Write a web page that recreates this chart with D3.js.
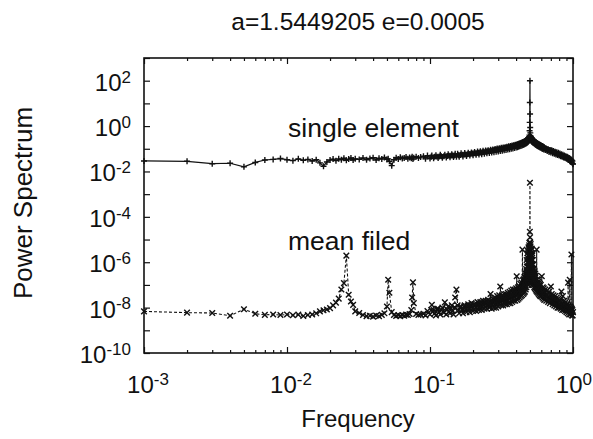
<!DOCTYPE html>
<html><head><meta charset="utf-8">
<script src="https://cdn.jsdelivr.net/npm/d3@7"></script>
<style>body{margin:0;background:#fff}svg{display:block}text{font-family:"Liberation Sans",Arial,Helvetica,sans-serif;fill:#111}</style>
</head><body><svg id="c" width="593" height="439"></svg>
<script>
const title = "a=1.5449205 e=0.0005";
const xLabel = "Frequency";
const yLabel = "Power Spectrum";
const seriesNames = ["single element", "mean filed"];
const xTickExps = [-3, -2, -1, 0];
const yTickExps = [2, 0, -2, -4, -6, -8, -10];

const freq = [
.001,.002,.003,.004,.005,.006,.007,.008,.009,.010,
.011,.012,.013,.014,.015,.016,.017,.018,.019,.020,
.021,.022,.023,.024,.025,.026,.027,.028,.029,.030,
.032,.034,.036,.038,.040,.042,.044,.046,.048,.050,
.051,.052,.054,.056,.058,.060,.062,.064,.066,.068,
.070,.072,.074,.075,.076,.077,.080,.083,.086,.090,
.093,.096,.100,.103,.106,.110,.114,.118,.122,.127,
.130,.134,.138,.142,.146,.150,.153,.156,.160,.165,
.170,.175,.180,.185,.190,.195,.200,.205,.210,.215,
.220,.225,.230,.235,.240,.245,.250,.255,.260,.265,
.270,.275,.280,.285,.290,.295,.300,.305,.310,.315,
.320,.325,.330,.335,.340,.345,.350,.355,.360,.365,
.370,.375,.380,.385,.390,.395,.400,.404,.408,.412,
.416,.420,.424,.428,.432,.436,.440,.443,.446,.449,
.452,.455,.458,.461,.464,.467,.470,.472,.474,.476,
.478,.480,.481,.482,.483,.484,.485,.486,.487,.488,
.489,.490,.491,.492,.493,.494,.495,.496,.497,.498,
.499,.500,.501,.502,.503,.504,.505,.506,.507,.508,
.509,.510,.511,.512,.513,.514,.515,.516,.517,.518,
.519,.520,.522,.524,.526,.528,.530,.533,.536,.539,
.542,.545,.548,.551,.554,.557,.560,.564,.568,.572,
.576,.580,.584,.588,.592,.596,.600,.605,.610,.615,
.620,.625,.630,.640,.650,.660,.670,.680,.690,.700,
.710,.720,.730,.740,.750,.760,.770,.780,.790,.800,
.810,.820,.830,.840,.850,.860,.870,.880,.890,.900,
.910,.920,.924,.930,.940,.949,.955,.960,.970,.975,
.980,.985,.990,.995,1.000];

const singleElement = [
2.9e-2,2.8e-2,2.2e-2,2.3e-2,1.6e-2,2.5e-2,3.2e-2,3.4e-2,3.7e-2,3.3e-2,
3.0e-2,3.6e-2,3.1e-2,3.4e-2,2.9e-2,3.3e-2,2.4e-2,1.7e-2,2.6e-2,3.2e-2,
3.5e-2,3.0e-2,3.6e-2,3.3e-2,3.8e-2,3.1e-2,3.5e-2,3.9e-2,3.2e-2,3.6e-2,
3.4e-2,3.9e-2,3.3e-2,3.7e-2,4.0e-2,3.2e-2,3.8e-2,3.5e-2,4.1e-2,3.4e-2,
3.6e-2,2.8e-2,1.8e-2,3.3e-2,4.0e-2,3.5e-2,4.2e-2,3.7e-2,3.9e-2,4.3e-2,
3.6e-2,4.1e-2,3.8e-2,4.4e-2,3.5e-2,4.0e-2,4.5e-2,3.9e-2,4.3e-2,4.7e-2,
3.6e-2,5.0e-2,3.7e-2,5.1e-2,3.8e-2,5.2e-2,3.9e-2,5.4e-2,4.0e-2,5.5e-2,
4.1e-2,5.7e-2,4.2e-2,5.8e-2,4.3e-2,6.0e-2,4.4e-2,6.1e-2,4.5e-2,6.3e-2,
4.6e-2,6.5e-2,4.8e-2,6.7e-2,5.0e-2,6.9e-2,5.2e-2,7.2e-2,5.4e-2,7.5e-2,
5.6e-2,7.8e-2,5.8e-2,8.1e-2,6.0e-2,8.4e-2,6.3e-2,8.7e-2,6.5e-2,9.0e-2,
6.8e-2,9.4e-2,7.0e-2,9.8e-2,7.3e-2,1.02e-1,7.6e-2,1.06e-1,7.9e-2,1.1e-1,
8.2e-2,1.14e-1,8.5e-2,1.18e-1,8.9e-2,1.23e-1,9.2e-2,1.28e-1,9.6e-2,1.33e-1,
1.0e-1,1.38e-1,1.04e-1,1.44e-1,1.08e-1,1.5e-1,1.13e-1,1.56e-1,1.18e-1,1.63e-1,
1.23e-1,1.7e-1,1.28e-1,1.77e-1,1.34e-1,1.85e-1,1.4e-1,1.93e-1,1.46e-1,2.0e-1,
1.52e-1,2.1e-1,1.58e-1,2.2e-1,1.65e-1,2.3e-1,1.72e-1,2.4e-1,1.8e-1,2.5e-1,
1.88e-1,2.6e-1,1.95e-1,2.7e-1,2.0e-1,2.8e-1,2.1e-1,2.9e-1,2.2e-1,3.0e-1,
2.3e-1,3.1e-1,2.4e-1,3.2e-1,2.5e-1,3.4e-1,2.6e-1,4.0e-1,6.2e-1,1.45,
11,100,3.4,8.7e-1,5.0e-1,3.8e-1,3.4e-1,2.6e-1,3.3e-1,2.5e-1,
3.2e-1,2.4e-1,3.1e-1,2.3e-1,3.0e-1,2.2e-1,2.9e-1,2.1e-1,2.8e-1,2.05e-1,
2.7e-1,2.0e-1,2.6e-1,1.9e-1,2.5e-1,1.85e-1,2.4e-1,1.75e-1,2.2e-1,1.65e-1,
2.1e-1,1.55e-1,2.0e-1,1.48e-1,1.9e-1,1.4e-1,1.8e-1,1.33e-1,1.7e-1,1.26e-1,
1.6e-1,1.2e-1,1.55e-1,1.15e-1,1.48e-1,1.1e-1,1.4e-1,1.04e-1,1.32e-1,9.8e-2,
1.25e-1,9.3e-2,1.18e-1,8.8e-2,1.0e-1,7.9e-2,9.5e-2,7.2e-2,8.9e-2,6.8e-2,
8.5e-2,6.3e-2,7.9e-2,6.0e-2,7.4e-2,5.6e-2,7.0e-2,5.3e-2,6.6e-2,5.0e-2,
6.2e-2,4.7e-2,5.8e-2,4.4e-2,5.4e-2,4.1e-2,5.1e-2,3.9e-2,4.7e-2,3.6e-2,
4.4e-2,3.4e-2,4.1e-2,3.2e-2,3.9e-2,3.0e-2,3.6e-2,2.8e-2,3.4e-2,2.6e-2,
3.1e-2,2.4e-2,2.9e-2,2.2e-2,2.1e-2];

const meanField = [
6.8e-9,6.0e-9,5.8e-9,4.4e-9,8.5e-9,5.4e-9,4.8e-9,5.0e-9,4.7e-9,5.0e-9,
4.6e-9,4.9e-9,4.3e-9,4.7e-9,5.0e-9,5.6e-9,6.8e-9,7.6e-9,8.3e-9,9.5e-9,
1.26e-8,1.66e-8,2.5e-8,6.3e-8,1.2e-7,1.95e-6,3.7e-8,1.86e-8,1.32e-8,6.8e-9,
5.8e-9,4.7e-9,4.2e-9,4.4e-9,4.0e-9,4.5e-9,4.2e-9,4.8e-9,5.6e-9,1.12e-8,
1.7e-7,4.5e-8,6.3e-9,4.7e-9,4.3e-9,4.6e-9,4.2e-9,4.7e-9,4.4e-9,4.9e-9,
4.7e-9,5.2e-9,7.9e-9,2.8e-8,1.29e-7,1.58e-8,5.2e-9,4.7e-9,5.0e-9,5.4e-9,
4.5e-9,7.1e-9,5.0e-9,1.32e-8,7.9e-9,4.5e-9,8.9e-9,5.0e-9,1.0e-8,1.7e-8,
5.0e-9,1.12e-8,5.6e-9,1.26e-8,5.0e-9,2.8e-8,6.2e-8,1.26e-8,5.6e-9,1.12e-8,
5.6e-9,1.26e-8,6.3e-9,1.41e-8,6.3e-9,1.58e-8,7.1e-9,1.41e-8,7.1e-9,1.78e-8,
7.9e-9,1.78e-8,7.9e-9,2.0e-8,8.9e-9,2.0e-8,8.9e-9,2.2e-8,1.0e-8,4.0e-8,
8.9e-9,2.5e-8,1.0e-8,2.8e-8,1.0e-8,3.2e-8,1.12e-8,3.5e-8,8.5e-8,1.26e-8,
3.5e-8,1.26e-8,4.0e-8,1.41e-8,4.0e-8,1.41e-8,4.5e-8,1.58e-8,5.0e-8,1.58e-8,
5.6e-8,1.78e-8,6.3e-8,2.0e-8,6.3e-8,2.0e-8,7.1e-8,2.4e-7,2.2e-8,7.9e-8,
2.5e-8,8.9e-8,2.8e-8,1.12e-7,3.2e-8,1.26e-7,3.5e-8,3.6e-6,1.58e-7,4.0e-8,
1.78e-7,4.5e-8,2.2e-7,5.0e-8,3.2e-7,6.3e-8,5.0e-7,7.9e-8,1.26e-6,1.26e-7,
6.3e-7,2.5e-6,1.58e-7,1.58e-6,2.5e-7,3.2e-6,1.0e-7,2.0e-6,3.2e-7,4.5e-6,
2.5e-7,2.0e-6,1.26e-7,4.0e-6,6.3e-7,5.6e-6,2.0e-7,7.1e-6,1.0e-6,7.4e-6,
2.2e-5,3.2e-3,1.26e-5,7.4e-6,5.0e-7,5.0e-6,1.58e-7,6.3e-6,3.2e-7,3.5e-6,
7.9e-7,3.2e-6,1.26e-7,2.0e-6,5.0e-7,4.0e-6,2.5e-7,1.26e-6,1.0e-7,2.5e-6,
2.5e-7,2.0e-6,1.26e-7,1.26e-6,1.58e-7,7.9e-7,1.0e-7,5.0e-7,7.9e-8,4.0e-7,
7.1e-8,3.2e-7,6.3e-8,2.5e-7,5.6e-8,3.6e-6,5.0e-8,1.78e-7,4.5e-8,1.41e-7,
4.0e-8,1.26e-7,3.5e-8,1.12e-7,3.2e-8,1.0e-7,3.2e-8,2.4e-7,2.8e-8,7.9e-8,
2.5e-8,7.1e-8,2.2e-8,6.3e-8,2.0e-8,5.6e-8,1.78e-8,5.0e-8,1.58e-8,8.5e-8,
4.0e-8,1.41e-8,3.5e-8,1.26e-8,3.2e-8,1.12e-8,2.8e-8,1.0e-8,2.5e-8,1.0e-8,
2.2e-8,8.9e-9,5.1e-8,7.9e-9,3.2e-8,7.9e-9,2.0e-8,7.1e-9,1.78e-8,6.3e-9,
1.41e-8,5.6e-9,1.26e-7,1.26e-8,5.0e-9,1.7e-7,1.12e-8,5.0e-9,1.0e-8,2.2e-6,
8.9e-9,4.5e-9,7.9e-9,4.5e-9,6.3e-9];

// extra in-between frequencies of the dense high-frequency part
const freqB = [
.102,.108,.112,.116,.120,.125,.132,.136,.140,.144,
.148,.158,.163,.168,.173,.178,.183,.188,.193,.198,
.203,.208,.213,.218,.223,.228,.233,.238,.243,.248,
.253,.258,.263,.268,.273,.278,.283,.288,.293,.298,
.303,.308,.313,.318,.323,.328,.333,.338,.343,.348,
.353,.358,.363,.368,.373,.378,.383,.388,.393,.398,
.402,.406,.410,.414,.418,.422,.426,.430,.434,.438,
.441,.445,.448,.451,.454,.457,.460,.463,.466,.469,
.471,.473,.475,.477,.479,.521,.523,.525,.527,.529,
.531,.532,.535,.538,.541,.544,.547,.550,.553,.556,
.559,.562,.566,.570,.574,.578,.582,.586,.590,.594,
.598,.603,.608,.613,.618,.623,.628,.635,.645,.655,
.665,.675,.685,.695,.705,.715,.725,.735,.745,.755,
.765,.775,.785,.795,.805,.815,.825,.835,.845,.855,
.865,.875,.885,.895,.905,.915,.935,.945,.965];

const singleElementB = [
4.4e-2,4.5e-2,4.5e-2,4.6e-2,4.7e-2,4.7e-2,4.8e-2,4.9e-2,4.9e-2,5.0e-2,
5.0e-2,5.2e-2,5.3e-2,5.4e-2,5.5e-2,5.6e-2,5.8e-2,5.9e-2,6.0e-2,6.2e-2,
6.3e-2,6.4e-2,6.5e-2,6.7e-2,6.8e-2,6.9e-2,7.1e-2,7.2e-2,7.4e-2,7.5e-2,
7.7e-2,7.8e-2,8.0e-2,8.2e-2,8.4e-2,8.6e-2,8.8e-2,9.0e-2,9.2e-2,9.4e-2,
9.6e-2,9.8e-2,1.0e-1,1.02e-1,1.04e-1,1.06e-1,1.08e-1,1.1e-1,1.12e-1,1.14e-1,
1.16e-1,1.18e-1,1.2e-1,1.23e-1,1.26e-1,1.29e-1,1.32e-1,1.35e-1,1.38e-1,1.41e-1,
1.44e-1,1.47e-1,1.5e-1,1.54e-1,1.58e-1,1.62e-1,1.66e-1,1.7e-1,1.74e-1,1.78e-1,
1.82e-1,1.86e-1,1.9e-1,1.94e-1,1.98e-1,2.02e-1,2.06e-1,2.1e-1,2.14e-1,2.18e-1,
2.2e-1,2.24e-1,2.27e-1,2.3e-1,2.33e-1,2.33e-1,2.3e-1,2.27e-1,2.24e-1,2.2e-1,
2.17e-1,2.15e-1,2.1e-1,2.05e-1,2.0e-1,1.95e-1,1.9e-1,1.85e-1,1.8e-1,1.75e-1,
1.71e-1,1.67e-1,1.62e-1,1.57e-1,1.53e-1,1.49e-1,1.45e-1,1.41e-1,1.38e-1,1.35e-1,
1.32e-1,1.28e-1,1.24e-1,1.2e-1,1.17e-1,1.14e-1,1.11e-1,1.07e-1,1.02e-1,9.7e-2,
9.3e-2,8.9e-2,8.6e-2,8.3e-2,8.0e-2,7.7e-2,7.4e-2,7.1e-2,6.8e-2,6.6e-2,
6.3e-2,6.1e-2,5.9e-2,5.7e-2,5.5e-2,5.3e-2,5.1e-2,4.9e-2,4.8e-2,4.6e-2,
4.5e-2,4.4e-2,4.3e-2,4.2e-2,4.1e-2,4.0e-2,3.7e-2,3.6e-2,3.3e-2];

const meanFieldB = [
7.9e-9,5.6e-9,8.9e-9,6.3e-9,7.9e-9,6.0e-9,8.3e-9,6.6e-9,9.5e-9,7.1e-9,
1.0e-8,7.6e-9,1.05e-8,7.9e-9,1.12e-8,8.3e-9,1.2e-8,8.9e-9,1.26e-8,9.5e-9,
1.32e-8,1.0e-8,1.41e-8,1.05e-8,1.51e-8,1.12e-8,1.58e-8,1.2e-8,1.66e-8,1.26e-8,
1.78e-8,1.32e-8,1.9e-8,1.41e-8,2.0e-8,1.51e-8,2.1e-8,1.58e-8,2.2e-8,1.66e-8,
2.4e-8,1.82e-8,2.5e-8,2.0e-8,2.7e-8,2.1e-8,2.8e-8,2.2e-8,3.0e-8,2.3e-8,
3.2e-8,2.5e-8,3.4e-8,2.7e-8,3.6e-8,2.9e-8,4.0e-8,3.2e-8,4.3e-8,3.4e-8,
4.5e-8,3.5e-8,5.0e-8,4.0e-8,5.6e-8,4.5e-8,6.3e-8,5.0e-8,7.1e-8,5.6e-8,
7.9e-8,7.1e-8,1.12e-7,8.9e-8,1.26e-7,1.0e-7,1.58e-7,1.26e-7,2.0e-7,1.58e-7,
2.5e-7,4.0e-7,3.2e-7,6.3e-7,1.0e-6,7.9e-7,5.0e-7,4.0e-7,3.2e-7,2.5e-7,
2.0e-7,2.5e-7,1.58e-7,1.78e-7,1.26e-7,1.41e-7,1.0e-7,1.12e-7,8.9e-8,1.0e-7,
7.9e-8,8.9e-8,7.1e-8,7.9e-8,6.3e-8,7.1e-8,5.6e-8,6.3e-8,5.0e-8,5.6e-8,
5.0e-8,4.5e-8,5.0e-8,4.0e-8,4.5e-8,3.5e-8,4.0e-8,3.5e-8,3.2e-8,3.3e-8,
3.0e-8,2.8e-8,2.6e-8,2.5e-8,2.4e-8,2.2e-8,2.1e-8,2.0e-8,1.9e-8,1.78e-8,
1.7e-8,1.58e-8,1.51e-8,1.41e-8,1.35e-8,1.26e-8,1.26e-8,1.2e-8,1.12e-8,1.12e-8,
1.05e-8,1.0e-8,1.0e-8,8.9e-9,8.9e-9,8.3e-9,7.9e-9,7.6e-9,7.1e-9];

const svg = d3.select("#c");
const L = 144, R = 573, T = 58, B = 353;
const x = d3.scaleLog().domain([1e-3, 1]).range([L, R]);
const y = d3.scaleLog().domain([1e-10, 1e3]).range([B, T]);

svg.append("text").attr("x", 358).attr("y", 30).attr("text-anchor", "middle")
  .attr("font-size", 24.5).text(title);

const xMajor = d3.range(-3, 1).map(e => Math.pow(10, e));
const xMinor = [];
for (let e = -3; e < 0; e++) for (let m = 2; m <= 9; m++) xMinor.push(m * Math.pow(10, e));
const yMajor = d3.range(-10, 4).map(e => Math.pow(10, e));

function ax(gen, tf) { const g = svg.append("g").attr("transform", tf).call(gen);
  g.select(".domain").remove(); g.selectAll("line").attr("stroke", "#111").attr("stroke-width", 1.2); return g; }
ax(d3.axisBottom(x).tickValues(xMajor).tickSize(-6).tickFormat(""), `translate(0,${B})`);
ax(d3.axisBottom(x).tickValues(xMinor).tickSize(-3).tickFormat(""), `translate(0,${B})`);
ax(d3.axisTop(x).tickValues(xMajor).tickSize(-6).tickFormat(""), `translate(0,${T})`);
ax(d3.axisTop(x).tickValues(xMinor).tickSize(-3).tickFormat(""), `translate(0,${T})`);
ax(d3.axisLeft(y).tickValues(yMajor).tickSize(-6).tickFormat(""), `translate(${L},0)`);
ax(d3.axisRight(y).tickValues(yMajor).tickSize(-6).tickFormat(""), `translate(${R},0)`);

svg.append("rect").attr("x", L).attr("y", T).attr("width", R - L).attr("height", B - T)
  .attr("fill", "none").attr("stroke", "#111").attr("stroke-width", 1.6);

function sup(sel, e) {
  sel.append("tspan").text("10");
  sel.append("tspan").attr("dy", "-0.48em").attr("font-size", 17).text(String(e));
}
xTickExps.forEach(e => {
  const last = e === 0;
  const t = svg.append("text").attr("x", last ? 592 : x(Math.pow(10, e)) + 4).attr("y", 393)
    .attr("text-anchor", last ? "end" : "middle").attr("font-size", 24);
  sup(t, e);
});
yTickExps.forEach(e => {
  const t = svg.append("text").attr("x", 131).attr("y", y(Math.pow(10, e)) + 10)
    .attr("text-anchor", "end").attr("font-size", 24);
  sup(t, e);
});

svg.append("text").attr("x", 358).attr("y", 427).attr("text-anchor", "middle")
  .attr("font-size", 24).text(xLabel);
svg.append("text").attr("transform", "translate(32,203) rotate(-90)")
  .attr("text-anchor", "middle").attr("font-size", 26).text(yLabel);

const byF = (a, b) => a.f - b.f;
const sData = freq.map((f, i) => ({ f, v: singleElement[i] }))
  .concat(freqB.map((f, i) => ({ f, v: singleElementB[i] }))).sort(byF);
const mData = freq.map((f, i) => ({ f, v: meanField[i] }))
  .concat(freqB.map((f, i) => ({ f, v: meanFieldB[i] }))).sort(byF);
const line = d3.line().x(d => x(d.f)).y(d => y(d.v));

const plot = svg.append("g");
plot.append("path").datum(sData).attr("d", line).attr("fill", "none")
  .attr("stroke", "#111").attr("stroke-width", 1.2);
plot.append("path").datum(mData).attr("d", line).attr("fill", "none")
  .attr("stroke", "#111").attr("stroke-width", 1.1).attr("stroke-dasharray", "3,2");

const plus = "M-3,0H3M0,-3V3";
const cross = "M-2.8,-2.8L2.8,2.8M-2.8,2.8L2.8,-2.8";
plot.selectAll(".p").data(sData).enter().append("path")
  .attr("transform", d => `translate(${x(d.f)},${y(d.v)})`).attr("d", plus)
  .attr("stroke", "#111").attr("stroke-width", 1.4);
plot.selectAll(".m").data(mData).enter().append("path")
  .attr("transform", d => `translate(${x(d.f)},${y(d.v)})`).attr("d", cross)
  .attr("stroke", "#111").attr("stroke-width", 1.4);

svg.append("text").attr("x", 288).attr("y", 137).attr("font-size", 26.5).text(seriesNames[0]);
svg.append("text").attr("x", 288).attr("y", 250).attr("font-size", 26.5).text(seriesNames[1]);
</script></body></html>
